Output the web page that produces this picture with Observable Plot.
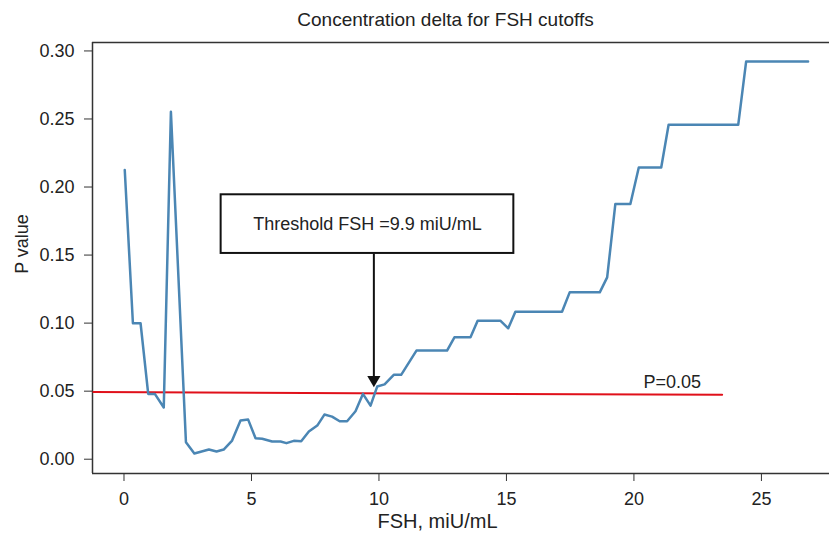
<!DOCTYPE html>
<html><head><meta charset="utf-8">
<script src="https://cdn.jsdelivr.net/npm/d3@7"></script>
<script src="https://cdn.jsdelivr.net/npm/@observablehq/plot@0.6"></script>
<style>body{margin:0;background:#fff}</style>
</head><body><div id="chart"></div>
<script>
// FSH cutoff (miU/mL) and P value
const fsh = [0.03, 0.35, 0.65, 0.95, 1.21, 1.56, 1.84, 2.43, 2.76, 3.33, 3.63, 3.91, 4.24, 4.57, 4.87, 5.16, 5.42, 5.81, 6.14, 6.37, 6.66, 6.95, 7.25, 7.58, 7.86, 8.16, 8.46, 8.75, 9.08, 9.37, 9.67, 9.93, 10.22, 10.58, 10.87, 11.47, 12.67, 12.96, 13.59, 13.87, 14.76, 15.07, 15.35, 17.18, 17.48, 18.66, 18.95, 19.27, 19.86, 20.19, 21.07, 21.36, 24.09, 24.4, 26.83];
const pval = [0.2125, 0.0999, 0.0999, 0.048, 0.048, 0.038, 0.2553, 0.0125, 0.0042, 0.0071, 0.0057, 0.0071, 0.0137, 0.0284, 0.0291, 0.0154, 0.015, 0.013, 0.013, 0.0118, 0.0135, 0.0132, 0.0203, 0.0247, 0.0328, 0.0313, 0.0279, 0.0279, 0.0352, 0.048, 0.0394, 0.0534, 0.055, 0.062, 0.062, 0.0798, 0.0798, 0.0896, 0.0896, 0.1018, 0.1018, 0.0962, 0.1084, 0.1084, 0.1226, 0.1226, 0.1336, 0.1875, 0.1875, 0.2144, 0.2144, 0.2457, 0.2457, 0.2922, 0.2922];

const xTicks = [0, 5, 10, 15, 20, 25];
const yTicks = [0, 0.05, 0.10, 0.15, 0.20, 0.25, 0.30];
const xDomain = [-1.235, 27.67];
const yDomain = [-0.0105, 0.3062];

// P = 0.05 reference line (as drawn, slightly sloped)
const refX = [-1.2, 23.46];
const refY = [0.0493, 0.0473];
const refLabel = "P=0.05";
const refLabelX = 21.5;
const refLabelY = 0.0565;

// Threshold annotation
const boxX = [3.81, 15.29];
const boxY = [0.1512, 0.1943];
const boxLabel = "Threshold FSH =9.9 miU/mL";
const arrowX = 9.8;
const arrowY = [0.1508, 0.0529];

const titleText = "Concentration delta for FSH cutoffs";
const xLabel = "FSH, miU/mL";
const yLabel = "P value";

const data = fsh.map((x, i) => ({x, y: pval[i]}));
const refData = refX.map((x, i) => ({x, y: refY[i]}));

const ink = "#222";
const plot = Plot.plot({
  width: 829,
  height: 533,
  marginLeft: 92,
  marginRight: 0,
  marginTop: 42,
  marginBottom: 60,
  style: {fontFamily: "'Liberation Sans', Arial, sans-serif", fontSize: "18px", color: ink, background: "#fff"},
  x: {domain: xDomain},
  y: {domain: yDomain},
  marks: [
    Plot.ruleY([yDomain[0], yDomain[1]], {stroke: "#333", strokeWidth: 1.5}),
    Plot.ruleX([xDomain[0]], {stroke: "#333", strokeWidth: 1.5}),
    Plot.axisY({ticks: yTicks, tickFormat: d3.format(".2f"), tickSize: 8, tickPadding: 10, label: null, stroke: "#333", fontSize: 18}),
    Plot.axisX({ticks: xTicks, tickSize: 8, tickPadding: 11, label: null, stroke: "#333", fontSize: 18}),
    Plot.line(refData, {x: "x", y: "y", stroke: "#e0101a", strokeWidth: 2}),
    Plot.text([refLabel], {x: refLabelX, y: refLabelY, text: d => d, fontSize: 18, fill: ink}),
    Plot.line(data, {x: "x", y: "y", stroke: "#4b86b4", strokeWidth: 2.5, strokeLinejoin: "round"}),
    Plot.rect([0], {x1: boxX[0], x2: boxX[1], y1: boxY[0], y2: boxY[1], fill: "#fff", stroke: "#111", strokeWidth: 2}),
    Plot.text([boxLabel], {x: (boxX[0] + boxX[1]) / 2, y: (boxY[0] + boxY[1]) / 2, text: d => d, fontSize: 18, fill: ink}),
    Plot.ruleX([arrowX], {y1: arrowY[0], y2: arrowY[1], stroke: "#111", strokeWidth: 2, insetBottom: 6}),
    Plot.dot([arrowX], {x: d => d, y: arrowY[1], symbol: "triangle", r: 4.9, rotate: 180, fill: "#111", stroke: "none", dy: -7.5}),
    Plot.text([titleText], {frameAnchor: "top", textAnchor: "middle", lineAnchor: "middle", dy: -23, dx: -15.5, text: d => d, fontSize: 19, fill: ink}),
    Plot.text([xLabel], {frameAnchor: "bottom", textAnchor: "middle", lineAnchor: "middle", dy: 48, dx: -23.5, text: d => d, fontSize: 20, fill: ink}),
    Plot.text([yLabel], {frameAnchor: "left", textAnchor: "middle", lineAnchor: "middle", dx: -70, dy: -14, rotate: -90, text: d => d, fontSize: 18, fill: ink})
  ]
});
document.getElementById("chart").appendChild(plot);
</script>
</body></html>
